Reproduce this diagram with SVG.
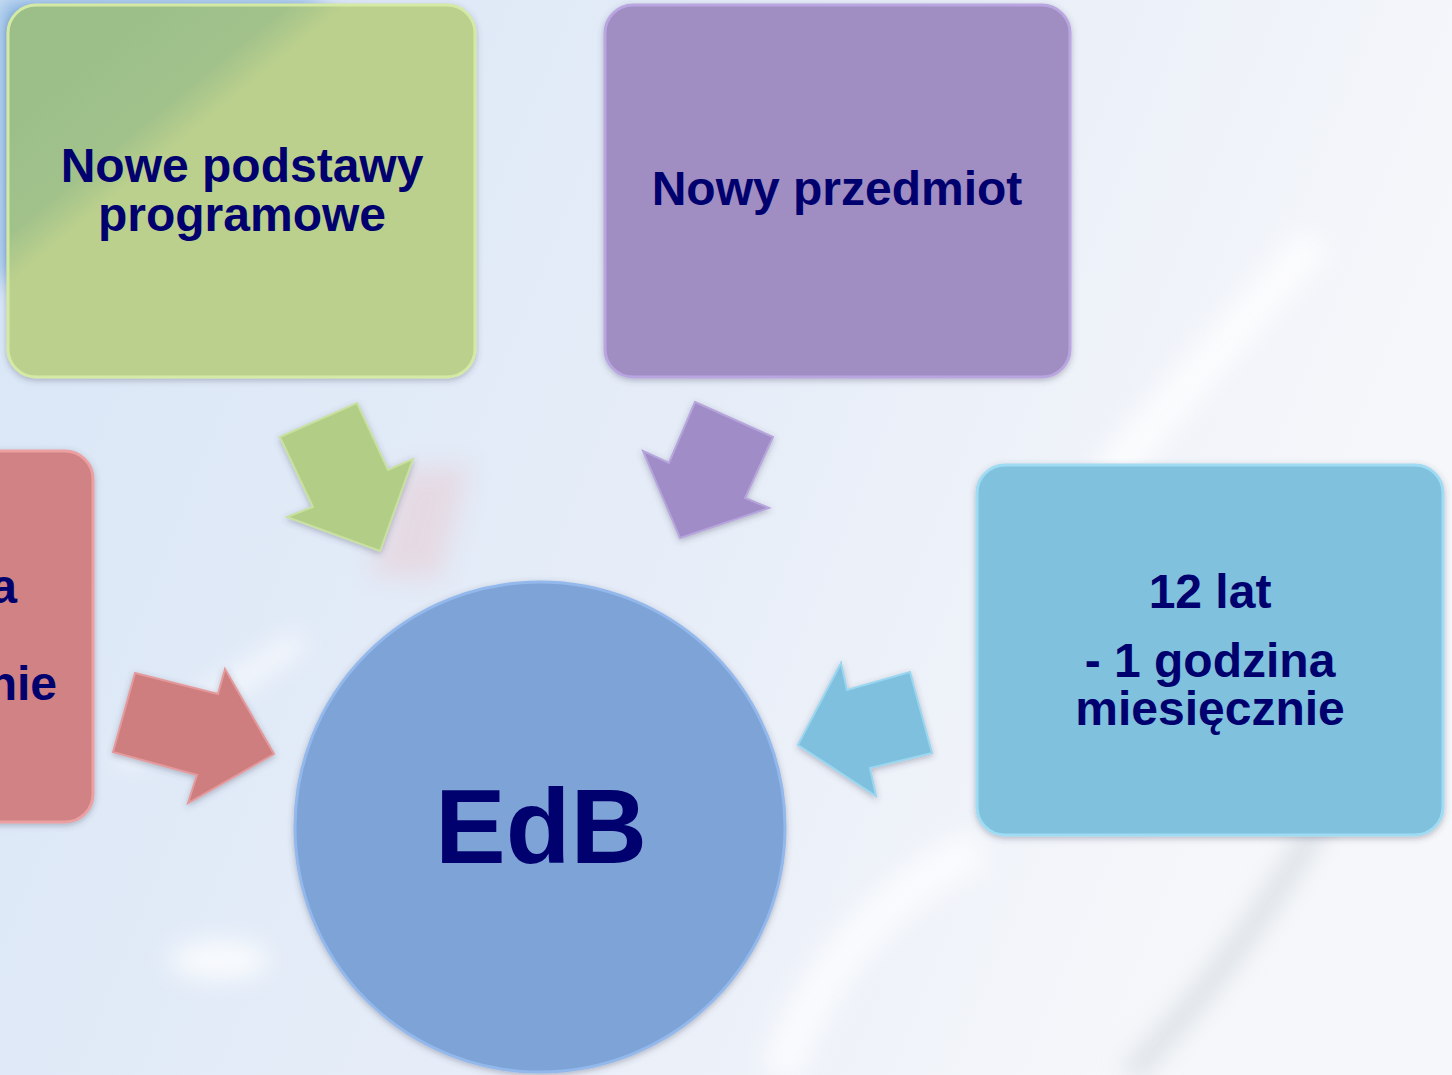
<svg xmlns="http://www.w3.org/2000/svg" width="1452" height="1075" viewBox="0 0 1452 1075">
<defs>
<style>
.lbl{font-family:"Liberation Sans",Arial,sans-serif;font-weight:bold;fill:#00006e;font-size:48px;text-anchor:middle}
.box{stroke-width:3}
</style>
<linearGradient id="bg" x1="0" y1="0" x2="1" y2="0.3">
<stop offset="0" stop-color="#d8e6f6"/>
<stop offset="0.55" stop-color="#e6edf8"/>
<stop offset="1" stop-color="#f6f7fa"/>
</linearGradient>
<linearGradient id="greenFill" gradientUnits="userSpaceOnUse" x1="100" y1="57" x2="220" y2="203">
<stop offset="0" stop-color="#9cbf8a"/>
<stop offset="0.42" stop-color="#a2c28b"/>
<stop offset="0.62" stop-color="#bbd08d"/>
<stop offset="1" stop-color="#bbd08d"/>
</linearGradient>
<filter id="shadow" x="-10%" y="-10%" width="120%" height="120%">
<feDropShadow dx="0" dy="2" stdDeviation="3" flood-color="#404060" flood-opacity="0.35"/>
</filter>
<filter id="blur" x="-50%" y="-50%" width="200%" height="200%">
<feGaussianBlur stdDeviation="12"/>
</filter>
</defs>

<g id="background">
<rect width="1452" height="1075" fill="url(#bg)"/>
<path d="M0 0 H330 L0 290 Z" fill="#5d9ad8" opacity="0.7" filter="url(#blur)"/>
<path d="M1090 470 L1300 230 L1330 250 L1120 490 Z" fill="#ffffff" opacity="0.8" filter="url(#blur)"/>
<path d="M1130 1075 C1240 960 1330 820 1380 700" fill="none" stroke="#c9d3da" stroke-width="22" opacity="0.6" filter="url(#blur)"/>
<path d="M120 760 L300 640" fill="none" stroke="#ffffff" stroke-width="18" opacity="0.8" filter="url(#blur)"/>
<path d="M370 575 L400 470 L470 465 L440 580 Z" fill="#f0a0a0" opacity="0.22" filter="url(#blur)"/>
<ellipse cx="220" cy="960" rx="50" ry="20" fill="#ffffff" opacity="0.8" filter="url(#blur)"/>
<path d="M780 1075 C820 960 900 880 980 850" fill="none" stroke="#ffffff" stroke-width="40" opacity="0.7" filter="url(#blur)"/>
</g>

<g id="connectors" filter="url(#shadow)">
<polygon id="arrow-green" points="280,437 357,403 388,470 413,459 380,551 287,517 313,507" fill="#b2cd86" stroke="#c8e0a0" stroke-width="2"/>
<polygon id="arrow-purple" points="695,402 773,437 745,498 769,508 680,538 643,451 669,463" fill="#a08cc6" stroke="#b6a4dc" stroke-width="2"/>
<polygon id="arrow-red" points="135,673 218,694 225,669 274,754 188,803 197,775 113,752" fill="#cf7e80" stroke="#e49a9c" stroke-width="2"/>
<polygon id="arrow-blue" points="910,672 932,753 870,768 876,796 798,745 841,663 847,690" fill="#7ec0de" stroke="#9ad6f0" stroke-width="2"/>
</g>

<g id="node-green">
<rect class="box" x="8" y="5" width="467" height="372" rx="28" fill="url(#greenFill)" stroke="#d4eaa4" filter="url(#shadow)"/>
<text class="lbl" x="242" y="182">Nowe podstawy</text>
<text class="lbl" x="242" y="231">programowe</text>
</g>

<g id="node-purple">
<rect class="box" x="605" y="5" width="465" height="372" rx="28" fill="#a08dc2" stroke="#b9a6e0" filter="url(#shadow)"/>
<text class="lbl" x="837" y="205">Nowy przedmiot</text>
</g>

<g id="node-red">
<rect class="box" x="-373" y="451" width="466" height="371" rx="28" fill="#d08284" stroke="#eca0a2" filter="url(#shadow)"/>
<text class="lbl" x="17" y="603" style="text-anchor:end">a</text>
<text class="lbl" x="57" y="700" style="text-anchor:end">nie</text>
</g>

<g id="node-blue">
<rect class="box" x="977" y="465" width="466" height="370" rx="28" fill="#80c1dd" stroke="#9fdcf4" filter="url(#shadow)"/>
<text class="lbl" x="1210" y="608">12 lat</text>
<text class="lbl" x="1210" y="677">- 1 godzina</text>
<text class="lbl" x="1210" y="725">miesięcznie</text>
</g>

<g id="node-center">
<circle cx="540" cy="827" r="245" fill="#7ea3d7" stroke="#93b8ec" stroke-width="3" filter="url(#shadow)"/>
<text class="lbl" x="541" y="863" style="font-size:106px">EdB</text>
</g>
</svg>
